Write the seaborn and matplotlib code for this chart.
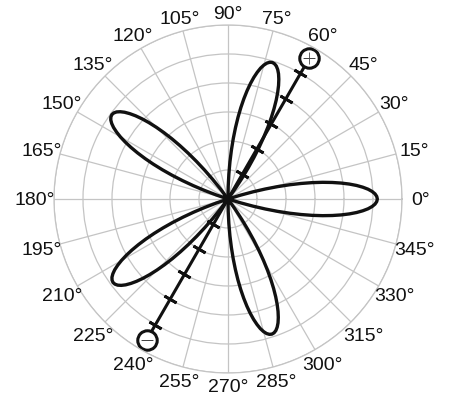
import numpy as np
import pandas as pd
import seaborn as sns
import matplotlib.pyplot as plt

petal_angles = [0, 72, 144, 216, 288]
petal_lengths = [5.15, 4.95, 4.95, 4.9, 4.9]

# relative radius of one petal vs. offset from its axis (deg, 1 deg steps)
half_offsets = list(range(0, 19))
half_profile = [1.0, 0.996, 0.985, 0.966, 0.94, 0.906, 0.866, 0.819, 0.766, 0.707,
                0.643, 0.574, 0.5, 0.423, 0.342, 0.259, 0.174, 0.087, 0.0]

# dipole drawn along 60/240 deg
dipole_angle = 60
dipole_ticks = [1, 2, 3, 4, 5]
dipole_end = 5.6
dipole_line_end = 5.25

theta_ticks = list(range(0, 360, 15))
theta_labels = [f"{a}°" for a in theta_ticks]

sns.set_style("white")
plt.rcParams['font.family'] = ['Liberation Sans', 'DejaVu Sans']

fig = plt.figure(figsize=(4.53, 3.96), dpi=100)
ax = fig.add_axes([0.1192, 0.0581, 0.7682, 0.8788], projection='polar')

offsets = [-o for o in half_offsets[::-1]] + half_offsets[1:]
profile = half_profile[::-1] + half_profile[1:]
rows = []
for i, (a, L) in enumerate(zip(petal_angles, petal_lengths)):
    for o, p in zip(offsets, profile):
        rows.append({'petal': i, 'theta': np.deg2rad(a + o), 'r': L * p})
df = pd.DataFrame(rows)

for i in df['petal'].unique():
    d = df[df['petal'] == i]
    sns.lineplot(x=d['theta'].values, y=d['r'].values, sort=False, color='#111111',
                 lw=2.4, ax=ax)

# dipole line with ticks and charged ends
t_pos = np.deg2rad(dipole_angle)
t_neg = np.deg2rad(dipole_angle + 180)
ax.plot([t_pos, t_pos], [0, dipole_line_end], color='#111111', lw=2.2)
ax.plot([t_neg, t_neg], [0, dipole_line_end], color='#111111', lw=2.2)
ax.plot([t_pos] * len(dipole_ticks), dipole_ticks, ls='none', color='#111111',
        marker=(2, 2, dipole_angle), ms=10, mew=2)
ax.plot([t_neg] * len(dipole_ticks), dipole_ticks, ls='none', color='#111111',
        marker=(2, 2, dipole_angle), ms=10, mew=2)
ax.plot([t_pos, t_neg], [dipole_end, dipole_end], ls='none', marker='o', ms=14,
        mfc='white', mec='#111111', mew=2.2)
ax.plot([t_pos], [dipole_end], ls='none', marker='+', ms=9, mec='#444444', mew=0.6)
ax.plot([t_neg], [dipole_end], ls='none', marker='_', ms=9, mec='#444444', mew=0.6)

ax.set_rlim(0, 6)
ax.set_rgrids([1, 2, 3, 4, 5, 6], labels=[''] * 6)
ax.set_thetagrids(theta_ticks, labels=[''] * len(theta_ticks))
for a, lab in zip(theta_ticks, theta_labels):
    t = np.deg2rad(a)
    ax.text(t, 6.43 + 0.22 * abs(np.cos(t)), lab, ha='center', va='center_baseline',
            fontsize=14, color='#111111')
ax.grid(True, color='#c4c4c4', lw=0.9)
ax.spines['polar'].set_color('#c4c4c4')
ax.spines['polar'].set_linewidth(0.9)

fig.savefig('out.png', dpi=100)
